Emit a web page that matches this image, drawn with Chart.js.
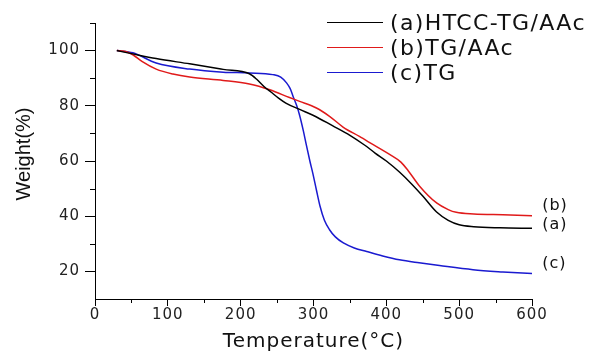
<!DOCTYPE html>
<html>
<head>
<meta charset="utf-8">
<script src="https://cdn.jsdelivr.net/npm/chart.js@4.4.1/dist/chart.umd.min.js"></script>
<style>
  html, body { margin: 0; padding: 0; background: #fff; }
  #wrap { width: 595px; height: 354px; position: relative; }
</style>
</head>
<body>
<div id="wrap"><canvas id="tgaChart"></canvas></div>
<script>
// (a) HTCC-TG/AAc
const temperatureA = [30, 50, 84, 130, 176, 212, 222, 232, 242, 252, 262, 281, 300, 326, 350, 370, 385, 400, 418, 435, 450, 469, 485, 500, 520, 556, 600];
const weightA = [100, 98.9, 97.1, 95.2, 93.2, 91.6, 89.6, 87.0, 84.9, 82.8, 81.0, 78.7, 76.5, 72.8, 69.3, 65.8, 62.8, 60.0, 56.0, 51.6, 47.3, 41.5, 38.5, 36.9, 36.2, 35.8, 35.6];

// (b) TG/AAc
const temperatureB = [30, 42, 52, 65, 84, 107, 130, 176, 212, 240, 267, 281, 304, 322, 341, 363, 382, 405, 420, 430, 446, 469, 485, 496, 520, 560, 600];
const weightB = [100, 99.7, 98.5, 96.0, 93.3, 91.5, 90.4, 89.2, 87.9, 85.8, 83.0, 81.6, 79.2, 76.2, 72.2, 68.9, 65.9, 62.3, 59.6, 56.5, 50.8, 44.8, 42.4, 41.4, 40.8, 40.5, 40.2];

// (c) TG
const temperatureC = [30, 52, 84, 130, 176, 212, 244, 255, 263, 268, 272, 277, 281, 286, 290, 295, 299, 304, 309, 315, 322, 330, 341, 356, 373, 395, 418, 445, 473, 519, 560, 600];
const weightC = [100, 99.2, 95.5, 93.3, 92.2, 91.9, 91.3, 90.4, 88.3, 86.2, 83.4, 80.0, 76.5, 71.0, 66.0, 60.0, 55.6, 49.5, 43.6, 38.5, 35.1, 32.5, 30.3, 28.5, 27.2, 25.6, 24.2, 23.1, 22.1, 20.6, 19.8, 19.2];

const seriesLabels = ['(a)HTCC-TG/AAc', '(b)TG/AAc', '(c)TG'];
const endLabels = ['(a)', '(b)', '(c)'];
const xTicks = [0, 100, 200, 300, 400, 500, 600];
const yTicks = [20, 40, 60, 80, 100];
const xMinorTicks = [50, 150, 250, 350, 450, 550];
const yMinorTicks = [30, 50, 70, 90, 110];

Chart.defaults.font.family = 'DejaVu Sans';
Chart.defaults.color = '#222';

const toPoints = (xs, ys) => xs.map((t, i) => ({ x: t, y: ys[i] }));

// minor ticks, legend, end labels, y title
const extras = {
    id: 'extras',
    beforeLayout(chart) { chart.ctx.letterSpacing = '1px'; },
    beforeDraw(chart) { chart.ctx.letterSpacing = '1px'; },
    afterDraw(chart) {
        const { ctx, scales: { x, y } } = chart;
        ctx.save();
        ctx.strokeStyle = '#000';
        ctx.lineWidth = 1;
        ctx.beginPath();
        xMinorTicks.forEach(v => {
            const px = Math.round(x.getPixelForValue(v)) + 0.5;
            ctx.moveTo(px, y.bottom);
            ctx.lineTo(px, y.bottom + 4);
        });
        yMinorTicks.forEach(v => {
            const py = Math.round(y.getPixelForValue(v)) + 0.5;
            ctx.moveTo(x.left, py);
            ctx.lineTo(x.left - 5, py);
        });
        ctx.stroke();

        // end labels next to the curves
        const endY = [36.9, 43.8, 22.6];
        ctx.fillStyle = '#111';
        ctx.letterSpacing = '1px';
        ctx.font = '16px "DejaVu Sans"';
        ctx.textAlign = 'left';
        ctx.textBaseline = 'middle';
        endLabels.forEach((lab, i) => {
            ctx.fillText(lab, x.getPixelForValue(614), y.getPixelForValue(endY[i]));
        });

        // legend
        ctx.font = '22px "DejaVu Sans"';
        ctx.letterSpacing = '1.4px';
        chart.data.datasets.forEach((ds, i) => {
            const ly = 22.5 + i * 25;
            ctx.strokeStyle = ds.borderColor;
            ctx.lineWidth = 1.2;
            ctx.beginPath();
            ctx.moveTo(327, ly);
            ctx.lineTo(383, ly);
            ctx.stroke();
            ctx.fillText(ds.label, 390, ly + 1.5);
        });

        // y axis title
        ctx.letterSpacing = '0px';
        ctx.font = '20px "Liberation Sans"';
        ctx.textAlign = 'center';
        ctx.translate(24, 154);
        ctx.rotate(-Math.PI / 2);
        ctx.fillText('Weight(%)', 0, 0);
        ctx.restore();
    }
};

const ctx = document.getElementById('tgaChart').getContext('2d');
const tgaChart = new Chart(ctx, {
    type: 'line',
    data: {
        datasets: [
            {
                label: seriesLabels[0],
                data: toPoints(temperatureA, weightA),
                borderColor: '#000000',
                borderWidth: 1.5
            },
            {
                label: seriesLabels[1],
                data: toPoints(temperatureB, weightB),
                borderColor: '#e01a1a',
                borderWidth: 1.5
            },
            {
                label: seriesLabels[2],
                data: toPoints(temperatureC, weightC),
                borderColor: '#1a1ad0',
                borderWidth: 1.5
            }
        ]
    },
    options: {
        responsive: true,
        maintainAspectRatio: false,
        animation: false,
        elements: {
            point: { radius: 0 },
            line: { cubicInterpolationMode: 'monotone', fill: false }
        },
        layout: {
            padding: { left: 0, right: 63, top: 23, bottom: 0 }
        },
        scales: {
            x: {
                type: 'linear',
                min: 0,
                max: 600,
                afterFit: s => { s.height = 55; },
                afterBuildTicks: s => { s.ticks = xTicks.map(v => ({ value: v })); },
                border: { display: true, color: '#000', width: 1 },
                grid: { drawOnChartArea: false, drawTicks: true, tickLength: 7, tickColor: '#000' },
                ticks: { font: { size: 15 }, padding: 0, maxRotation: 0, autoSkip: false },
                title: {
                    display: true,
                    text: 'Temperature(°C)',
                    font: { size: 20 },
                    color: '#111',
                    padding: 0
                }
            },
            y: {
                min: 10,
                max: 110,
                afterFit: s => { s.width = 95; },
                afterBuildTicks: s => { s.ticks = yTicks.map(v => ({ value: v })); },
                border: { display: true, color: '#000', width: 1 },
                grid: { drawOnChartArea: false, drawTicks: true, tickLength: 10, tickColor: '#000' },
                ticks: { font: { size: 15 }, padding: 5 }
            }
        },
        plugins: {
            legend: { display: false },
            tooltip: { enabled: false }
        }
    },
    plugins: [extras]
});
</script>
</body>
</html>
